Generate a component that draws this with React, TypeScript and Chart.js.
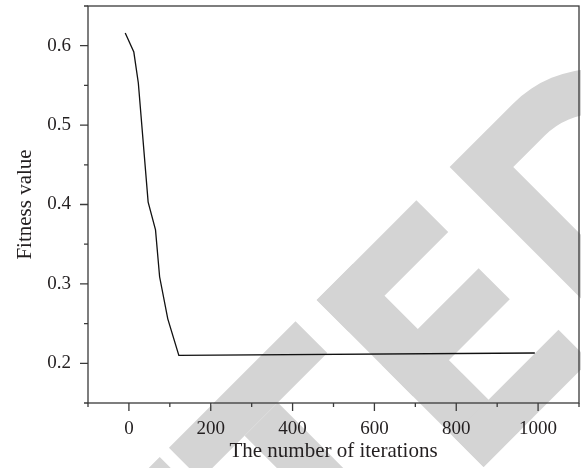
import React, { useEffect, useRef } from "react";
import { Chart, registerables } from "chart.js";

Chart.register(...registerables);

// Data
const iterations = [-9, 12, 23, 47, 65, 75, 95, 122, 992];
const fitness = [0.616, 0.592, 0.553, 0.403, 0.368, 0.309, 0.256, 0.21, 0.213];

const xMajorLabels = [0, 200, 400, 600, 800, 1000];
const yMajorLabels = [0.2, 0.3, 0.4, 0.5, 0.6];

const FONT_FAMILY = '"Liberation Serif", "Times New Roman", serif';
const TEXT_COLOR = "#231f20";
const AXIS_COLOR = "#3a3a3a";
const WATERMARK = "#d4d4d4";

const isXMajor = (v: number) => xMajorLabels.some((m) => Math.abs(m - v) < 1e-6);
const isYMajor = (v: number) => yMajorLabels.some((m) => Math.abs(m - v) < 1e-6);

// Background "RETRACTED" style watermark (decoration, drawn in a rotated frame)
const watermarkPlugin = {
  id: "watermark",
  beforeDraw(chart: any) {
    const ctx = chart.ctx as CanvasRenderingContext2D;
    ctx.save();
    ctx.fillStyle = WATERMARK;
    ctx.translate(316.7, 300);
    ctx.rotate(-Math.PI / 4);
    // C (partially visible)
    ctx.beginPath();
    ctx.moveTo(-222, 0);
    ctx.lineTo(-340, 0);
    ctx.arc(-340, 118, 118, -Math.PI / 2, Math.PI / 2, true);
    ctx.lineTo(-222, 236);
    ctx.lineTo(-222, 191);
    ctx.lineTo(-340, 191);
    ctx.arc(-340, 118, 73, Math.PI / 2, -Math.PI / 2, false);
    ctx.lineTo(-222, 45);
    ctx.closePath();
    ctx.fill();
    // T
    ctx.fillRect(-209, 0, 179, 45);
    ctx.fillRect(-147, 45, 47, 191);
    // E
    ctx.fillRect(0, 0, 51, 236);
    ctx.fillRect(0, 0, 141, 45);
    ctx.fillRect(0, 92, 137, 44);
    ctx.fillRect(0, 192, 150, 44);
    // D
    ctx.beginPath();
    ctx.moveTo(188, 0);
    ctx.lineTo(278, 0);
    ctx.arc(278, 118, 118, -Math.PI / 2, Math.PI / 2, false);
    ctx.lineTo(188, 236);
    ctx.closePath();
    ctx.moveTo(233, 45);
    ctx.lineTo(233, 191);
    ctx.lineTo(278, 191);
    ctx.arc(278, 118, 73, Math.PI / 2, -Math.PI / 2, true);
    ctx.closePath();
    ctx.fill("evenodd");
    ctx.restore();
  },
};

const framePlugin = {
  id: "frame",
  afterDraw(chart: any) {
    const ctx = chart.ctx as CanvasRenderingContext2D;
    const { left, right, top, bottom } = chart.chartArea;
    const xs = chart.scales.x;
    const ys = chart.scales.y;
    ctx.save();
    ctx.strokeStyle = AXIS_COLOR;
    ctx.lineWidth = 1.3;
    ctx.strokeRect(left, top, right - left, bottom - top);
    ctx.beginPath();
    xs.ticks.forEach((t: any) => {
      const px = xs.getPixelForValue(t.value);
      const len = isXMajor(t.value) ? 8 : 4;
      ctx.moveTo(px, bottom);
      ctx.lineTo(px, bottom + len);
    });
    ys.ticks.forEach((t: any) => {
      const py = ys.getPixelForValue(t.value);
      const len = isYMajor(t.value) ? 8 : 4;
      ctx.moveTo(left, py);
      ctx.lineTo(left - len, py);
    });
    ctx.stroke();
    ctx.restore();
  },
};

export default function App() {
  const canvasRef = useRef<HTMLCanvasElement | null>(null);

  useEffect(() => {
    if (!canvasRef.current) return;
    const tickFont = { family: FONT_FAMILY, size: 19 };
    const titleFont = { family: FONT_FAMILY, size: 21 };
    const chart = new Chart(canvasRef.current, {
      type: "scatter",
      data: {
        datasets: [
          {
            data: iterations.map((x, i) => ({ x, y: fitness[i] })),
            showLine: true,
            borderColor: "#111",
            borderWidth: 1.3,
            pointRadius: 0,
            fill: false,
            tension: 0,
          },
        ],
      },
      options: {
        animation: false,
        responsive: true,
        maintainAspectRatio: false,
        layout: { padding: { top: 6, right: 2, left: 0, bottom: 0 } },
        plugins: { legend: { display: false }, tooltip: { enabled: false } },
        scales: {
          x: {
            type: "linear",
            min: -100,
            max: 1100,
            afterFit: (s: any) => {
              s.height = 65;
              s.paddingLeft = 0;
              s.paddingRight = 0;
            },
            grid: { display: false, drawTicks: false },
            border: { display: false },
            ticks: {
              stepSize: 100,
              autoSkip: false,
              maxRotation: 0,
              padding: 15,
              font: tickFont,
              color: TEXT_COLOR,
              callback: (v: any) => (isXMajor(Number(v)) ? String(Math.round(Number(v))) : ""),
            },
            title: {
              display: true,
              text: "The number of iterations",
              font: titleFont,
              color: TEXT_COLOR,
              padding: { top: 0, bottom: 4 },
            },
          },
          y: {
            type: "linear",
            min: 0.15,
            max: 0.65,
            afterFit: (s: any) => {
              s.width = 88;
              s.paddingTop = 0;
              s.paddingBottom = 0;
            },
            grid: { display: false, drawTicks: false },
            border: { display: false },
            ticks: {
              stepSize: 0.05,
              autoSkip: false,
              padding: 17,
              font: tickFont,
              color: TEXT_COLOR,
              callback: (v: any) => (isYMajor(Number(v)) ? Number(v).toFixed(1) : ""),
            },
            title: {
              display: true,
              text: "Fitness value",
              font: titleFont,
              color: TEXT_COLOR,
              padding: { top: 13, bottom: 0 },
            },
          },
        },
      },
      plugins: [watermarkPlugin, framePlugin],
    });
    return () => chart.destroy();
  }, []);

  return (
    <div style={{ position: "fixed", left: 0, top: 0, width: 581, height: 468, background: "#fff" }}>
      <canvas ref={canvasRef} />
    </div>
  );
}
